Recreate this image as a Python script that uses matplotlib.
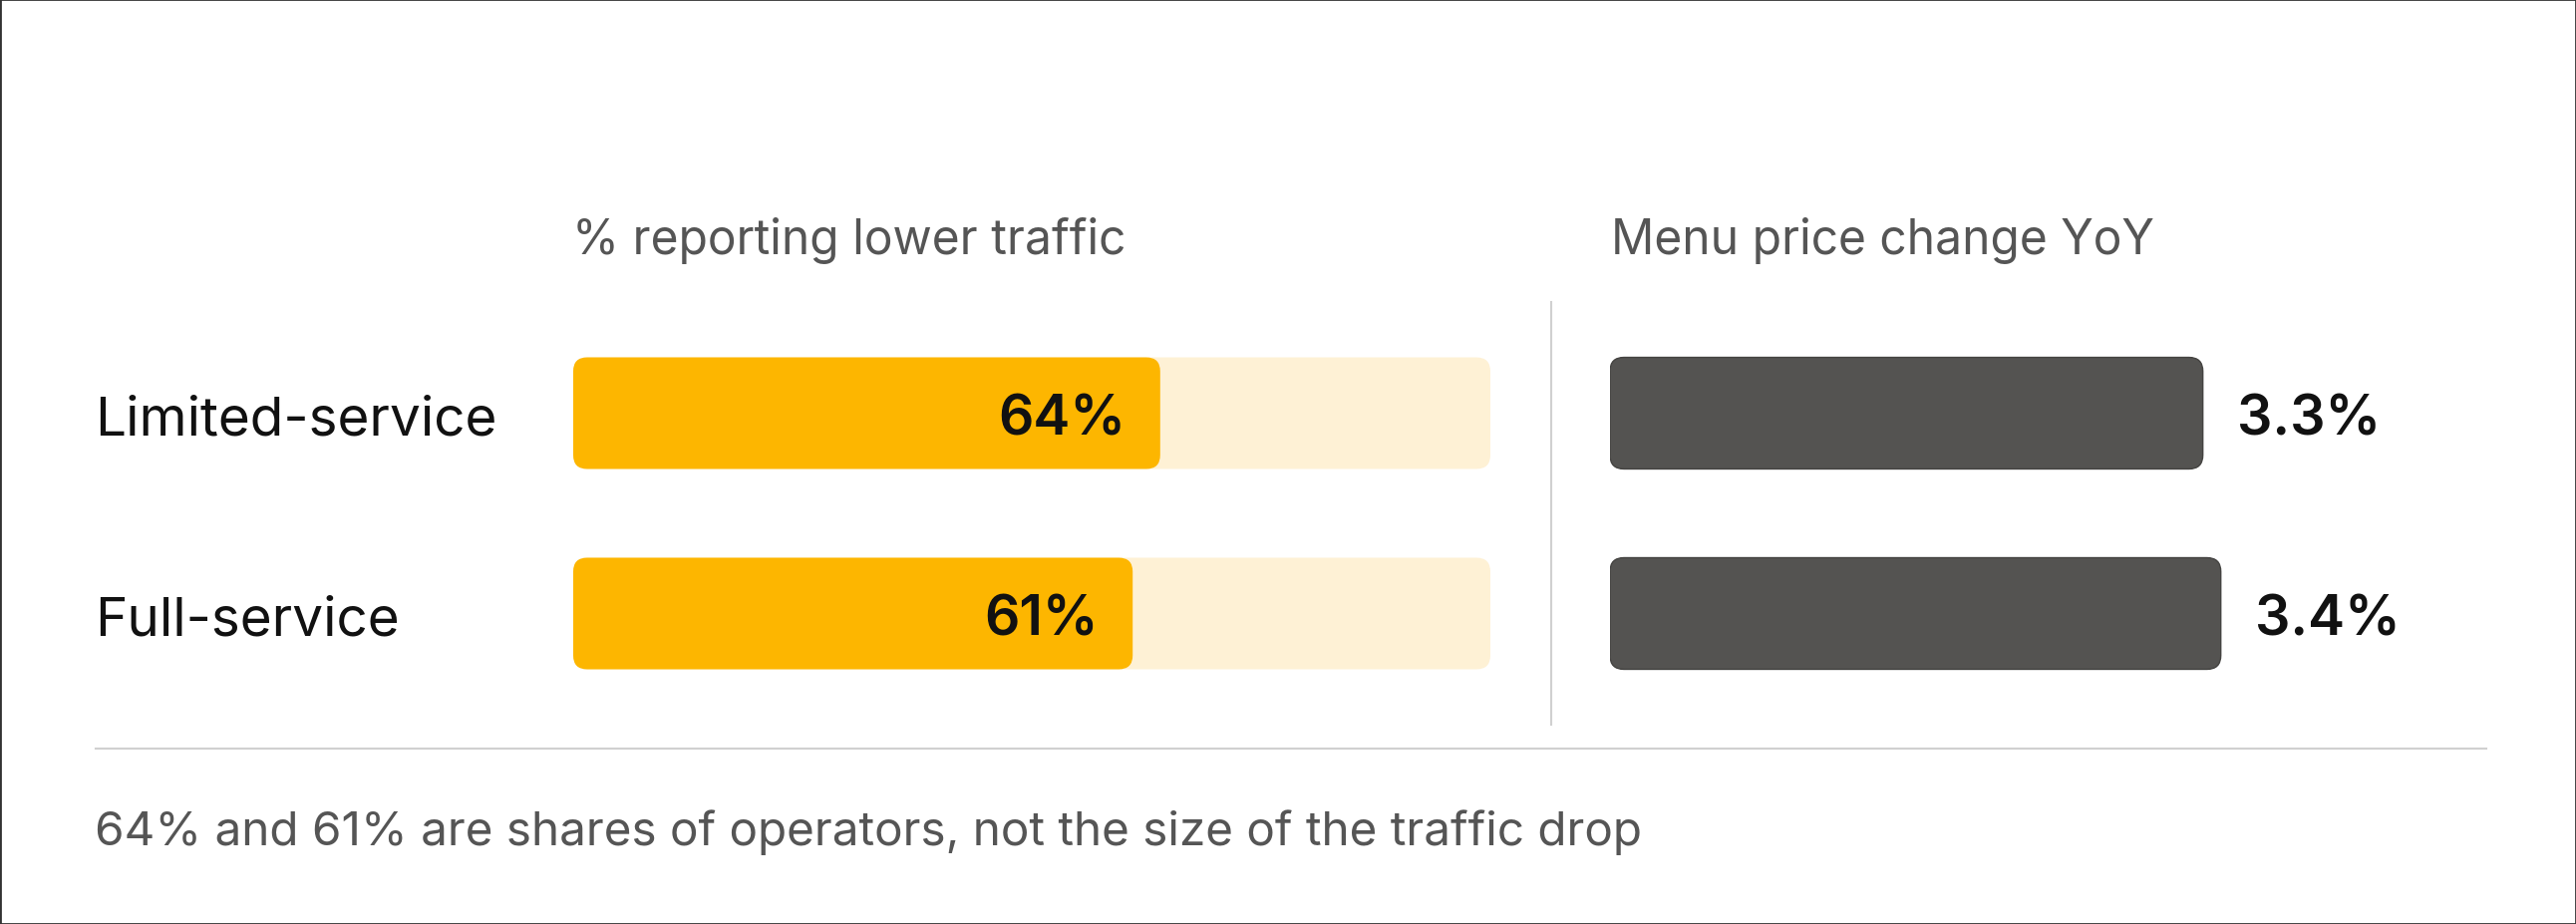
import matplotlib.pyplot as plt
from matplotlib.patches import FancyBboxPatch, Rectangle
from matplotlib.lines import Line2D
from matplotlib.transforms import blended_transform_factory

plt.rcParams['font.family'] = ['Inter', 'DejaVu Sans']

# data
segments = ['Limited-service', 'Full-service']
traffic_share = [64, 61]      # % of operators reporting lower traffic
price_change = [3.3, 3.4]     # menu price change YoY, %
track_max = 100

W, H = 2584, 928
fig = plt.figure(figsize=(W / 100, H / 100), dpi=100)


def px_box(x0, y0, x1, y1):
    # pixel box (from top-left) -> figure fraction rect
    return [x0 / W, 1 - y1 / H, (x1 - x0) / W, (y1 - y0) / H]


ax_l = fig.add_axes(px_box(575, 315, 1495, 717))
ax_r = fig.add_axes(px_box(1615, 315, 2480, 717))

for ax, xmax in ((ax_l, track_max), (ax_r, 4.8)):
    ax.set_xlim(0, xmax)
    ax.set_ylim(1.5, -0.5)
    ax.axis('off')


def round_bars(ax, bars, radius_px, **kw):
    # swap plain rectangles for rounded ones, keeping corners circular in pixels
    pos = ax.get_position()
    x0, x1 = ax.get_xlim()
    y0, y1 = ax.get_ylim()
    xu = abs(x1 - x0) / (pos.width * W)
    yu = abs(y1 - y0) / (pos.height * H)
    for b in bars:
        x, y, w, h = b.get_x(), b.get_y(), b.get_width(), b.get_height()
        fc = b.get_facecolor()
        b.remove()
        ax.add_patch(FancyBboxPatch((x, y), w, h,
                                    boxstyle=f"round,pad=0,rounding_size={radius_px * xu}",
                                    mutation_aspect=yu / xu, facecolor=fc, **kw))


rows = list(range(len(segments)))
bh = 0.557

# left panel: share of operators
track = ax_l.barh(rows, [track_max] * len(rows), height=bh, color='#FEF1D5')
round_bars(ax_l, track, 14, linewidth=0)
fill = ax_l.barh(rows, traffic_share, height=bh, color='#FDB600')
round_bars(ax_l, fill, 14, linewidth=0)
for i, v in enumerate(traffic_share):
    ax_l.annotate(f"{v}%", (v, i), xytext=(-24.5, -15), textcoords='offset points',
                  ha='right', va='baseline', fontsize=40, fontweight='semibold', color='#111111')

# right panel: menu price change
dark = ax_r.barh(rows, price_change, height=bh, color='#545351')
round_bars(ax_r, dark, 14, edgecolor='#444341', linewidth=1)
for i, v in enumerate(price_change):
    ax_r.annotate(f"{v}%", (v, i), xytext=(24.5, -15), textcoords='offset points',
                  ha='left', va='baseline', fontsize=40, fontweight='semibold', color='#111111')

# category labels
trans = blended_transform_factory(fig.transFigure, ax_l.transData)
for i, seg in enumerate(segments):
    ax_l.annotate(seg, (95 / W, i), xycoords=trans, xytext=(0, -15), textcoords='offset points',
                  ha='left', va='baseline', fontsize=39.5, color='#111111')

# panel titles
fig.text(574 / W, 1 - 255 / H, '% reporting lower traffic', va='baseline',
         fontsize=34.5, color='#555555')
fig.text(1616 / W, 1 - 255 / H, 'Menu price change YoY', va='baseline',
         fontsize=34.5, color='#555555')

# divider and rule
fig.add_artist(Line2D([1556 / W] * 2, [1 - 304 / H, 1 - 728 / H], color='#d0d0d0', lw=1.5))
fig.add_artist(Line2D([96 / W, 2494 / W], [1 - 752 / H] * 2, color='#d0d0d0', lw=1.5))

# footnote
fig.text(95 / W, 1 - 848 / H, '64% and 61% are shares of operators, not the size of the traffic drop',
         va='baseline', fontsize=34.3, color='#555555')

# frame
fig.add_artist(Rectangle((0, 0), 1, 1, transform=fig.transFigure, fill=False,
                         edgecolor='#333333', linewidth=2))

fig.savefig('out.png', dpi=100)
